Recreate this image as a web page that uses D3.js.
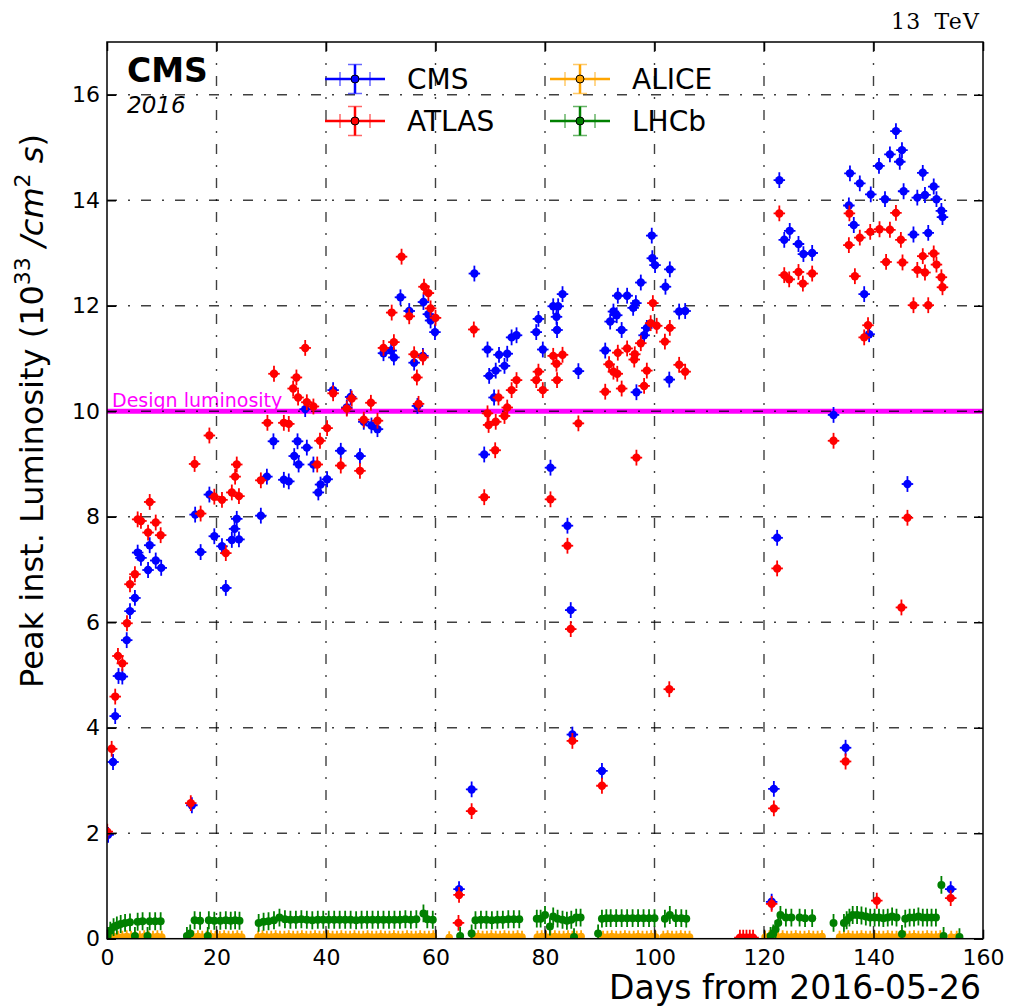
<!DOCTYPE html>
<html>
<head>
<meta charset="utf-8">
<script src="https://cdn.jsdelivr.net/npm/d3@7"></script>
<style>
  body { margin: 0; background: #fff; }
  svg { display: block; font-family: "DejaVu Sans", sans-serif; }
</style>
</head>
<body>
<div id="chart"></div>
<script>
// ---- data (days from 2016-05-26, peak lumi in 1e33 /cm2 s) ----
const cmsDays = [
  0.2, 1.1, 1.5, 2.1, 2.8, 3.6, 4.2, 5.1, 5.6, 6.2,
  7.5, 7.8, 8.9, 9.9, 15.5, 16.1, 17.1, 18.7, 19.6, 21.0,
  21.7, 22.8, 23.3, 23.7, 24.1, 28.1, 29.2, 30.4, 32.3, 33.2,
  34.2, 34.8, 35.0, 36.2, 36.5, 37.7, 38.6, 39.0, 40.2, 41.3,
  42.7, 43.8, 44.5, 46.2, 46.9, 48.3, 49.4, 50.5, 51.9, 52.4,
  53.6, 55.2, 56.1, 56.7, 57.7, 57.8, 58.7, 59.1, 59.9, 64.3,
  66.6, 67.1, 68.9, 69.5, 69.8, 70.7, 71.0, 71.6, 72.6, 73.1,
  73.9, 74.8, 78.4, 78.8, 79.6, 81.0, 81.5, 82.1, 82.2, 82.4,
  83.2, 84.1, 84.7, 85.0, 86.1, 90.4, 91.0, 91.9, 92.5, 93.1,
  93.3, 94.0, 95.0, 96.1, 96.6, 96.7, 97.5, 98.1, 98.6, 99.5,
  99.6, 100.1, 102.0, 102.7, 102.8, 104.5, 105.6, 121.4, 121.8, 122.4,
  122.8, 123.7, 124.7, 126.3, 127.2, 128.8, 132.7, 134.9, 135.5, 135.7,
  136.4, 137.5, 138.3, 139.2, 139.5, 141.0, 142.1, 143.0, 144.1, 144.8,
  145.2, 145.5, 146.2, 147.3, 148.0, 149.0, 149.4, 150.0, 151.0, 151.5,
  152.4, 152.6, 154.1
];
const cmsLumi = [
  1.97, 3.35, 4.22, 4.98, 4.97, 5.66, 6.21, 6.46, 7.32, 7.22,
  6.99, 7.46, 7.17, 7.03, 2.53, 8.04, 7.33, 8.42, 7.63, 7.44,
  6.65, 7.56, 7.77, 7.96, 7.57, 8.02, 8.76, 9.43, 8.70, 8.67,
  9.15, 9.43, 8.99, 10.04, 9.31, 8.99, 8.46, 8.61, 8.71, 10.40,
  9.25, 10.07, 10.27, 9.15, 9.80, 9.73, 9.66, 11.10, 11.15, 11.02,
  12.16, 11.90, 10.92, 10.10, 11.05, 12.07, 11.84, 11.72, 11.50, 0.94,
  2.83, 12.61, 9.18, 11.17, 10.67, 10.26, 10.77, 11.07, 10.86, 11.09,
  11.40, 11.44, 11.50, 11.75, 11.17, 8.93, 11.99, 11.79, 11.54, 11.99,
  12.22, 7.83, 6.23, 3.87, 10.76, 3.18, 11.15, 11.70, 11.89, 11.82,
  12.19, 11.54, 12.19, 11.96, 12.05, 10.36, 12.44, 11.44, 11.58, 13.33,
  12.90, 12.77, 12.36, 10.60, 12.69, 11.89, 11.90, 0.70, 2.84, 7.60,
  14.38, 13.25, 13.42, 13.17, 12.98, 13.00, 9.93, 3.62, 13.90, 14.51,
  13.53, 14.32, 12.22, 11.46, 14.11, 14.65, 14.02, 14.87, 15.31, 14.73,
  14.95, 14.17, 8.62, 13.35, 14.05, 14.52, 14.10, 13.38, 14.26, 14.02,
  13.80, 13.68, 0.94
];

const atlasDays = [
  0.05, 0.85, 1.5, 2.0, 2.8, 3.65, 4.2, 5.1, 5.6, 6.2,
  7.5, 7.8, 8.9, 9.8, 15.3, 16.0, 17.1, 18.7, 19.6, 21.0,
  21.7, 22.8, 23.4, 23.7, 24.1, 28.1, 29.3, 30.5, 32.3, 33.2,
  34.0, 34.6, 34.9, 36.2, 36.5, 37.7, 38.4, 38.9, 40.2, 41.3,
  42.7, 43.8, 44.7, 46.2, 46.9, 48.2, 49.4, 50.5, 52.0, 52.4,
  53.8, 55.2, 56.1, 56.6, 56.9, 57.7, 57.9, 58.7, 59.1, 60.0,
  64.2, 64.3, 66.6, 67.0, 68.9, 69.5, 69.7, 70.9, 71.0, 71.5,
  72.6, 73.1, 73.9, 74.8, 78.4, 78.8, 79.6, 81.0, 81.5, 82.1,
  82.2, 83.2, 84.1, 84.7, 85.0, 86.1, 90.4, 91.0, 91.7, 92.5,
  93.2, 93.3, 94.0, 95.0, 96.3, 96.4, 96.7, 97.5, 98.1, 98.6,
  99.3, 99.7, 100.4, 101.9, 102.7, 102.8, 104.5, 105.6, 115.6, 116.2,
  116.8, 117.4, 118.0, 121.4, 121.8, 122.4, 122.8, 123.7, 124.6, 126.3,
  127.1, 128.8, 132.7, 134.9, 135.5, 135.6, 136.6, 137.5, 138.3, 139.0,
  139.4, 140.6, 141.1, 142.3, 143.0, 144.1, 145.0, 145.1, 145.3, 146.2,
  147.3, 148.0, 149.0, 149.4, 150.0, 151.0, 151.5, 152.4, 152.6, 154.1
];
const atlasLumi = [
  2.03, 3.60, 4.59, 5.36, 5.22, 5.98, 6.72, 6.91, 7.95, 7.92,
  7.70, 8.28, 7.89, 7.65, 2.57, 9.00, 8.06, 9.54, 8.38, 8.32,
  7.31, 8.46, 8.76, 8.99, 8.39, 8.69, 9.78, 10.71, 9.78, 9.76,
  10.43, 10.64, 10.26, 11.20, 10.17, 10.09, 8.99, 9.44, 9.68, 10.34,
  8.97, 10.05, 10.24, 8.87, 9.84, 10.16, 9.82, 11.20, 11.87, 11.31,
  12.93, 11.80, 11.08, 10.64, 10.14, 11.02, 12.36, 12.24, 11.95, 11.77,
  0.30, 0.83, 2.42, 11.55, 8.37, 9.96, 9.74, 9.26, 9.80, 10.26,
  9.91, 10.07, 10.40, 10.59, 10.59, 10.75, 10.40, 8.33, 11.05, 10.90,
  10.59, 11.07, 7.45, 5.87, 3.75, 9.77, 2.90, 10.37, 10.89, 10.75,
  10.71, 11.11, 10.43, 11.19, 10.98, 11.08, 9.12, 11.29, 10.48, 10.77,
  11.67, 12.05, 11.62, 11.32, 4.73, 11.58, 10.88, 10.75, 0.02, 0.02,
  0.02, 0.02, 0.02, 0.66, 2.47, 7.02, 13.75, 12.58, 12.50, 12.64,
  12.42, 12.61, 9.44, 3.36, 13.15, 13.75, 12.56, 13.29, 11.40, 11.63,
  13.40, 0.72, 13.45, 12.83, 13.44, 13.76, 13.25, 6.28, 12.82, 7.98,
  12.01, 12.68, 12.94, 12.63, 12.01, 12.99, 12.78, 12.54, 12.35, 0.77
];

const aliceDays = [
  0.4, 1.2, 2.0, 2.8, 3.6, 4.4, 5.2, 6.0, 6.8, 7.6,
  8.4, 9.2, 10.0, 15.8, 16.6, 17.4, 18.2, 19.0, 19.8, 20.6,
  21.4, 22.2, 23.0, 23.8, 24.6, 27.6, 28.4, 29.2, 30.0, 30.8,
  31.6, 32.4, 33.2, 34.0, 34.8, 35.6, 36.4, 37.2, 38.0, 38.8,
  39.6, 40.4, 41.2, 42.0, 42.8, 43.6, 44.4, 45.2, 46.0, 46.8,
  47.6, 48.4, 49.2, 50.0, 50.8, 51.6, 52.4, 53.2, 54.0, 54.8,
  55.6, 56.4, 57.2, 58.0, 58.8, 59.6, 62.5, 67.0, 67.8, 68.6,
  69.4, 70.2, 71.0, 71.8, 72.6, 73.4, 74.2, 75.0, 75.8, 78.6,
  79.4, 80.2, 81.0, 81.8, 82.6, 83.4, 84.2, 85.0, 85.8, 86.6,
  90.6, 91.4, 92.2, 93.0, 93.8, 94.6, 95.4, 96.2, 97.0, 97.8,
  98.6, 99.4, 100.2, 101.6, 102.4, 103.2, 104.0, 104.8, 105.6, 106.4,
  120.2, 121.0, 121.8, 122.6, 123.4, 124.2, 125.0, 125.8, 126.6, 127.4,
  128.2, 129.0, 129.8, 130.6, 133.8, 134.6, 135.4, 136.2, 137.0, 137.8,
  138.6, 139.4, 140.2, 141.0, 141.8, 142.6, 143.4, 144.2, 145.0, 145.8,
  146.6, 147.4, 148.2, 149.0, 149.8, 150.6, 151.4, 152.2, 154.2, 155.2
];
const aliceLumi = [
  0.03, 0.04, 0.03, 0.03, 0.04, 0.03, 0.02, 0.03, 0.04, 0.03,
  0.03, 0.04, 0.03, 0.03, 0.04, 0.03, 0.03, 0.04, 0.03, 0.03,
  0.04, 0.03, 0.03, 0.04, 0.03, 0.03, 0.04, 0.03, 0.03, 0.04,
  0.03, 0.03, 0.04, 0.03, 0.03, 0.04, 0.03, 0.03, 0.04, 0.03,
  0.03, 0.04, 0.03, 0.03, 0.04, 0.03, 0.03, 0.04, 0.03, 0.03,
  0.04, 0.03, 0.03, 0.04, 0.03, 0.03, 0.04, 0.03, 0.03, 0.04,
  0.03, 0.03, 0.04, 0.03, 0.03, 0.04, 0.02, 0.03, 0.04, 0.03,
  0.03, 0.04, 0.03, 0.03, 0.04, 0.03, 0.03, 0.04, 0.03, 0.03,
  0.04, 0.03, 0.03, 0.04, 0.03, 0.03, 0.04, 0.03, 0.03, 0.04,
  0.03, 0.03, 0.04, 0.03, 0.03, 0.04, 0.03, 0.03, 0.04, 0.03,
  0.03, 0.04, 0.03, 0.03, 0.04, 0.03, 0.03, 0.04, 0.03, 0.03,
  0.03, 0.04, 0.03, 0.03, 0.04, 0.03, 0.03, 0.04, 0.03, 0.03,
  0.04, 0.03, 0.03, 0.04, 0.03, 0.03, 0.04, 0.03, 0.03, 0.04,
  0.03, 0.03, 0.04, 0.03, 0.03, 0.04, 0.03, 0.03, 0.04, 0.03,
  0.03, 0.04, 0.03, 0.03, 0.04, 0.03, 0.03, 0.04, 0.03, 0.03
];

const lhcbDays = [
  0.1, 0.6, 1.2, 1.8, 2.5, 3.3, 4.2, 5.1, 5.6, 6.5,
  7.4, 7.8, 8.8, 9.8, 14.6, 15.2, 16.0, 17.0, 18.4, 18.6,
  19.6, 20.7, 21.7, 22.6, 23.4, 24.2, 27.7, 28.6, 29.5, 30.5,
  31.5, 32.5, 33.5, 34.5, 35.5, 36.5, 37.5, 38.5, 39.5, 40.5,
  41.5, 42.5, 43.5, 44.5, 45.5, 46.5, 47.5, 48.5, 49.5, 50.5,
  51.5, 52.5, 53.5, 54.5, 55.5, 56.5, 57.8, 58.5, 59.5, 64.5,
  66.6, 67.3, 68.3, 69.3, 70.3, 71.3, 72.3, 73.3, 74.3, 75.3,
  78.5, 79.2, 80.0, 80.9, 81.5, 82.3, 83.2, 84.0, 84.8, 85.3,
  85.7, 86.5, 89.7, 90.4, 91.2, 92.0, 93.0, 94.0, 95.0, 96.0,
  97.0, 98.0, 99.0, 100.0, 101.9, 102.8, 103.9, 104.9, 105.8, 121.2,
  121.7, 122.1, 122.6, 123.0, 124.0, 125.0, 126.5, 127.5, 128.8, 132.7,
  134.6, 135.1, 135.6, 136.2, 137.0, 137.8, 138.6, 139.4, 140.2, 141.0,
  141.8, 142.6, 143.4, 144.2, 145.2, 145.8, 146.6, 147.4, 148.2, 149.0,
  149.8, 150.6, 151.4, 152.4, 152.8, 155.7
];
const lhcbLumi = [
  0.05, 0.15, 0.22, 0.25, 0.28, 0.30, 0.31, 0.05, 0.32, 0.33,
  0.05, 0.33, 0.33, 0.33, 0.05, 0.10, 0.35, 0.34, 0.05, 0.35,
  0.34, 0.34, 0.35, 0.34, 0.35, 0.34, 0.30, 0.32, 0.33, 0.35,
  0.40, 0.37, 0.36, 0.36, 0.37, 0.36, 0.35, 0.36, 0.36, 0.36,
  0.36, 0.36, 0.36, 0.36, 0.35, 0.36, 0.36, 0.36, 0.36, 0.36,
  0.36, 0.36, 0.36, 0.37, 0.36, 0.37, 0.48, 0.37, 0.36, 0.05,
  0.10, 0.35, 0.36, 0.36, 0.35, 0.36, 0.36, 0.37, 0.37, 0.37,
  0.38, 0.38, 0.45, 0.23, 0.42, 0.38, 0.36, 0.34, 0.36, 0.03,
  0.40, 0.40, 0.10, 0.38, 0.39, 0.39, 0.39, 0.39, 0.39, 0.39,
  0.39, 0.39, 0.39, 0.39, 0.38, 0.45, 0.39, 0.39, 0.38, 0.05,
  0.10, 0.18, 0.30, 0.45, 0.40, 0.40, 0.40, 0.39, 0.39, 0.30,
  0.30, 0.35, 0.40, 0.45, 0.45, 0.44, 0.42, 0.40, 0.40, 0.40,
  0.39, 0.40, 0.42, 0.40, 0.09, 0.38, 0.40, 0.40, 0.42, 0.40,
  0.40, 0.40, 0.40, 1.02, 0.05, 0.03
];

const xTicks = [0, 20, 40, 60, 80, 100, 120, 140, 160];
const yTicks = [0, 2, 4, 6, 8, 10, 12, 14, 16];
const designLumi = 10;

// series config: name, colour, data, error sizes
const series = [
  { name: "CMS",   color: "#0000ff", days: cmsDays,   lumi: cmsLumi,   xerr: 1.05, yerr: 0.15, r: 4.2 },
  { name: "ATLAS", color: "#ff0000", days: atlasDays, lumi: atlasLumi, xerr: 1.05, yerr: 0.15, r: 4.2 },
  { name: "ALICE", color: "#ffa500", days: aliceDays, lumi: aliceLumi, xerr: 0.5, yerr: 0.12, r: 3.8 },
  { name: "LHCb",  color: "#008000", days: lhcbDays,  lumi: lhcbLumi,  xerr: 0.55, yerr: 0.17, r: 4.0 }
];

// ---- layout ----
const W = 1013, H = 1008;
const margin = { left: 107, right: 983, top: 42, bottom: 938.7 };

const svg = d3.select("#chart").append("svg")
  .attr("width", W).attr("height", H);

svg.append("rect").attr("width", W).attr("height", H).attr("fill", "#fff");

const x = d3.scaleLinear().domain([0, 160]).range([margin.left, margin.right]);
const y = d3.scaleLinear().domain([0, 17]).range([margin.bottom, margin.top]);

svg.append("clipPath").attr("id", "plotclip")
  .append("rect")
  .attr("x", margin.left).attr("y", margin.top)
  .attr("width", margin.right - margin.left).attr("height", margin.bottom - margin.top);

// design luminosity band
svg.append("line")
  .attr("x1", margin.left).attr("x2", margin.right)
  .attr("y1", y(designLumi)).attr("y2", y(designLumi))
  .attr("stroke", "#ff00ff").attr("stroke-width", 5);
svg.append("text")
  .attr("x", 112).attr("y", y(designLumi) - 4)
  .attr("fill", "#ff00ff").attr("font-size", 19)
  .text("Design luminosity");

// dash-dot grid
const grid = svg.append("g")
  .attr("stroke", "#000").attr("stroke-opacity", 0.75)
  .attr("stroke-width", 1.4).attr("stroke-dasharray", "10,11,2,11");
grid.selectAll(".gx").data(xTicks.slice(1, -1)).join("line")
  .attr("x1", d => x(d)).attr("x2", d => x(d))
  .attr("y1", margin.top).attr("y2", margin.bottom);
grid.selectAll(".gy").data(yTicks.slice(1)).join("line")
  .attr("x1", margin.left).attr("x2", margin.right)
  .attr("y1", d => y(d)).attr("y2", d => y(d));

// points with error bars
const plot = svg.append("g").attr("clip-path", "url(#plotclip)");
series.forEach(s => {
  const pts = s.days.map((d, i) => ({ d, v: s.lumi[i] }));
  const g = plot.append("g").attr("class", "series-" + s.name);
  g.selectAll(".ex").data(pts).join("line")
    .attr("x1", p => x(p.d - s.xerr)).attr("x2", p => x(p.d + s.xerr))
    .attr("y1", p => y(p.v)).attr("y2", p => y(p.v))
    .attr("stroke", s.color).attr("stroke-width", 1.8);
  g.selectAll(".ey").data(pts).join("line")
    .attr("x1", p => x(p.d)).attr("x2", p => x(p.d))
    .attr("y1", p => y(p.v - s.yerr)).attr("y2", p => y(p.v + s.yerr))
    .attr("stroke", s.color).attr("stroke-width", 1.8);
  g.selectAll("circle").data(pts).join("circle")
    .attr("cx", p => x(p.d)).attr("cy", p => y(p.v))
    .attr("r", s.r).attr("fill", s.color);
});

// axes: inward ticks on all four sides
const tickLen = 9;
const fontTick = 22;
svg.append("g").attr("transform", `translate(0,${margin.bottom})`)
  .call(d3.axisBottom(x).tickValues(xTicks).tickSize(-tickLen).tickSizeOuter(0).tickPadding(11));
svg.append("g").attr("transform", `translate(${margin.left},0)`)
  .call(d3.axisLeft(y).tickValues(yTicks).tickSize(-tickLen).tickSizeOuter(0).tickPadding(7));
svg.append("g").attr("transform", `translate(0,${margin.top})`)
  .call(d3.axisTop(x).tickValues(xTicks).tickSize(-tickLen).tickSizeOuter(0).tickFormat(""));
svg.append("g").attr("transform", `translate(${margin.right},0)`)
  .call(d3.axisRight(y).tickValues(yTicks).tickSize(-tickLen).tickSizeOuter(0).tickFormat(""));

svg.selectAll(".domain").remove();
svg.selectAll(".tick line").attr("stroke", "#000").attr("stroke-width", 1.5);
svg.selectAll(".tick text")
  .attr("font-family", "DejaVu Sans").attr("font-size", fontTick).attr("fill", "#000");

// frame
svg.append("rect")
  .attr("x", margin.left).attr("y", margin.top)
  .attr("width", margin.right - margin.left).attr("height", margin.bottom - margin.top)
  .attr("fill", "none").attr("stroke", "#000").attr("stroke-width", 1.5);

// legend (2 columns)
const legendPos = [
  { cx: 355, cy: 79 }, { cx: 355, cy: 121 },
  { cx: 580, cy: 79 }, { cx: 580, cy: 121 }
];
series.forEach((s, i) => {
  const p = legendPos[i];
  const g = svg.append("g");
  g.append("line").attr("x1", p.cx - 30).attr("x2", p.cx + 30)
    .attr("y1", p.cy).attr("y2", p.cy)
    .attr("stroke", s.color).attr("stroke-width", 2.5);
  [-15, 15].forEach(o => g.append("line")
    .attr("x1", p.cx + o).attr("x2", p.cx + o)
    .attr("y1", p.cy - 7).attr("y2", p.cy + 7)
    .attr("stroke", s.color).attr("stroke-opacity", 0.6).attr("stroke-width", 1.5));
  g.append("line").attr("x1", p.cx).attr("x2", p.cx)
    .attr("y1", p.cy - 14.5).attr("y2", p.cy + 14.5)
    .attr("stroke", s.color).attr("stroke-width", 2.5);
  [-14.5, 14.5].forEach(o => g.append("line")
    .attr("x1", p.cx - 7).attr("x2", p.cx + 7)
    .attr("y1", p.cy + o).attr("y2", p.cy + o)
    .attr("stroke", s.color).attr("stroke-opacity", 0.6).attr("stroke-width", 1.5));
  g.append("circle").attr("cx", p.cx).attr("cy", p.cy).attr("r", 4)
    .attr("fill", s.color).attr("stroke", "#000").attr("stroke-width", 1);
  g.append("text").attr("x", p.cx + 52).attr("y", p.cy + 9.5)
    .attr("font-size", 28).text(s.name);
});

// CMS label
svg.append("text").attr("x", 127).attr("y", 82)
  .attr("font-size", 33).attr("font-weight", "bold").text("CMS");
svg.append("text").attr("x", 127).attr("y", 113)
  .attr("font-size", 23).attr("font-style", "italic").text("2016");

// energy label
svg.append("text").attr("x", margin.right - 3).attr("y", 29)
  .attr("text-anchor", "end")
  .attr("font-family", "DejaVu Serif").attr("font-size", 22)
  .attr("letter-spacing", 1.2).attr("word-spacing", 5)
  .text("13 TeV");

// axis titles
svg.append("text").attr("x", margin.right - 2).attr("y", 999)
  .attr("text-anchor", "end").attr("font-size", 33)
  .text("Days from 2016-05-26");

const ylab = svg.append("text")
  .attr("transform", "translate(43,411) rotate(-90)")
  .attr("text-anchor", "middle").attr("font-size", 32);
ylab.append("tspan").text("Peak inst. Luminosity (10");
ylab.append("tspan").attr("dy", -13).attr("font-size", 22).text("33");
ylab.append("tspan").attr("dy", 13).attr("font-style", "italic").text(" /cm");
ylab.append("tspan").attr("dy", -13).attr("font-size", 22).text("2");
ylab.append("tspan").attr("dy", 13).attr("font-style", "italic").text(" s");
ylab.append("tspan").text(")");
</script>
</body>
</html>
